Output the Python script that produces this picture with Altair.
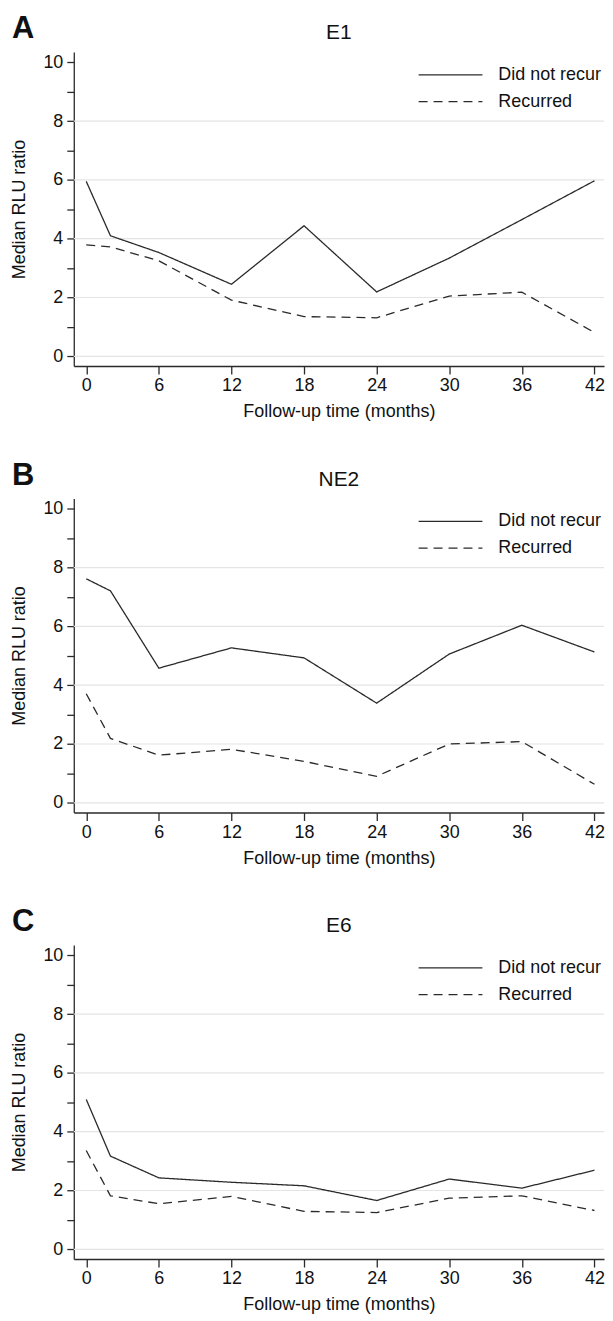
import altair as alt
import pandas as pd

# ---- data ----
months = [0, 2, 6, 12, 18, 24, 30, 36, 42]
groups = ["Did not recur", "Recurred"]

panel_letters = ["A", "B", "C"]
panel_titles = ["E1", "NE2", "E6"]

e1_no_recur = [5.95, 4.10, 3.53, 2.45, 4.44, 2.19, 3.34, 4.65, 5.97]
e1_recur = [3.79, 3.72, 3.25, 1.91, 1.35, 1.31, 2.05, 2.18, 0.81]

ne2_no_recur = [7.62, 7.21, 4.58, 5.27, 4.93, 3.39, 5.06, 6.04, 5.13]
ne2_recur = [3.71, 2.19, 1.62, 1.82, 1.41, 0.90, 2.00, 2.08, 0.63]

e6_no_recur = [5.10, 3.17, 2.43, 2.28, 2.16, 1.66, 2.39, 2.08, 2.69]
e6_recur = [3.36, 1.82, 1.55, 1.80, 1.29, 1.25, 1.74, 1.82, 1.32]

x_ticks = [0, 6, 12, 18, 24, 30, 36, 42]
y_ticks = [0, 1, 2, 3, 4, 5, 6, 7, 8, 9, 10]
grid_values = [0, 2, 4, 6, 8]

series = [
    (e1_no_recur, e1_recur),
    (ne2_no_recur, ne2_recur),
    (e6_no_recur, e6_recur),
]

FONT = "Liberation Sans"
INK = "#2a2a2a"
TXT = "#111111"
W, H = 532, 315


def y_axis():
    return alt.Axis(
        title="Median RLU ratio",
        values=y_ticks,
        grid=False,
        tickSize=7,
        labelPadding=4,
        titlePadding=14,
        labelExpr="datum.value % 2 == 0 ? datum.label : ''",
    )


def panel(idx):
    no_rec, rec = series[idx]
    rows = []
    for m, v in zip(months, no_rec):
        rows.append({"month": m, "value": v, "group": groups[0]})
    for m, v in zip(months, rec):
        rows.append({"month": m, "value": v, "group": groups[1]})
    df = pd.DataFrame(rows)

    xscale = alt.Scale(domain=[-1.03, 42.79], nice=False, zero=False)
    yscale = alt.Scale(domain=[-0.33, 10.35], nice=False, zero=False)

    grid = alt.Chart(pd.DataFrame({"g": grid_values})).mark_rule(
        color="#e4e4e4", strokeWidth=1.2
    ).encode(y=alt.Y("g:Q", scale=yscale, axis=y_axis()))

    lines = alt.Chart(df).mark_line(color=INK, strokeWidth=1.3).encode(
        x=alt.X(
            "month:Q",
            scale=xscale,
            axis=alt.Axis(
                title="Follow-up time (months)",
                values=x_ticks,
                grid=False,
                tickSize=8,
                labelPadding=3,
                titlePadding=8,
            ),
        ),
        y=alt.Y("value:Q", scale=yscale, axis=y_axis()),
        strokeDash=alt.StrokeDash(
            "group:N",
            scale=alt.Scale(domain=groups, range=[[1, 0], [9, 6]]),
            legend=alt.Legend(
                title=None,
                orient="none",
                legendX=345,
                legendY=14,
                symbolType="stroke",
                symbolSize=4096,
                symbolStrokeWidth=1.3,
                symbolStrokeColor=INK,
                clipHeight=18,
                labelOffset=15,
                rowPadding=8.7,
                labelFontSize=18,
                labelFont=FONT,
                labelColor=TXT,
            ),
        ),
        detail="group:N",
    )

    letter = alt.Chart(pd.DataFrame({"t": [panel_letters[idx]]})).mark_text(
        font=FONT, fontSize=31, fontWeight="bold", color=TXT,
        align="left", baseline="middle"
    ).encode(text="t:N", x=alt.value(-62), y=alt.value(-23))

    title = alt.Chart(pd.DataFrame({"t": [panel_titles[idx]]})).mark_text(
        font=FONT, fontSize=21, color=TXT, align="center", baseline="middle"
    ).encode(text="t:N", x=alt.value(W / 2), y=alt.value(-19))

    return alt.layer(grid, lines, letter, title).properties(width=W, height=H)


chart = alt.vconcat(panel(0), panel(1), panel(2), spacing=39).resolve_legend(
    strokeDash="independent"
).properties(
    padding={"left": 2, "top": 3, "right": 0, "bottom": 0}
).configure_view(stroke=None).configure_axis(
    labelFont=FONT,
    titleFont=FONT,
    labelFontSize=18,
    titleFontSize=18,
    titleFontWeight="normal",
    labelColor=TXT,
    titleColor=TXT,
    domainColor=INK,
    tickColor=INK,
    domainWidth=1.3,
    tickWidth=1.3,
)

chart.save("out.html", embed_options={"renderer": "svg", "actions": False})
